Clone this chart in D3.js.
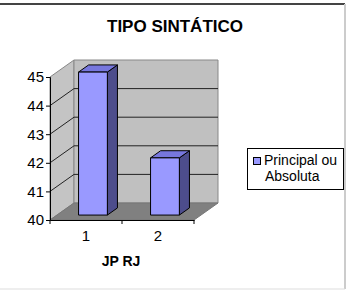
<!DOCTYPE html>
<html>
<head>
<meta charset="utf-8">
<script src="https://cdn.jsdelivr.net/npm/d3@7"></script>
<style>
  body { margin: 0; background: #fff; }
  svg { display: block; font-family: Arial, "Liberation Sans", sans-serif; }
</style>
</head>
<body>
<svg width="347" height="290"></svg>
<script>
// data
const categories = ['1', '2'];
const values = [45, 42];
const yTicks = [40, 41, 42, 43, 44, 45];
const seriesName = ['Principal ou', 'Absoluta'];

const svg = d3.select('svg');

// frame
svg.append('line').attr('x1', 0).attr('x2', 345).attr('y1', 4).attr('y2', 4)
  .attr('stroke', '#444').attr('stroke-width', 2);
svg.append('line').attr('x1', 345).attr('x2', 345).attr('y1', 4).attr('y2', 289)
  .attr('stroke', '#ccc').attr('stroke-width', 2);
svg.append('line').attr('x1', 0).attr('x2', 345).attr('y1', 289).attr('y2', 289)
  .attr('stroke', '#ddd').attr('stroke-width', 1);

// title
svg.append('text')
  .attr('x', 175).attr('y', 32)
  .attr('text-anchor', 'middle')
  .attr('font-size', 17).attr('font-weight', 'bold')
  .text('TIPO SINTÁTICO');

// scales
const y = d3.scaleLinear().domain([40, 45]).range([220, 77]);
const x = d3.scaleBand().domain(categories).range([50, 194]);
const dx = 24, dy = -17; // depth offset

const pts = p => p.map(d => d.join(',')).join(' ');

// left wall
svg.append('polygon')
  .attr('points', pts([[50, y(45)], [50 + dx, y(45) + dy], [50 + dx, y(40) + dy], [50, y(40)]]))
  .attr('fill', '#c4c4c4').attr('stroke', '#888');
// back wall
svg.append('polygon')
  .attr('points', pts([[50 + dx, y(45) + dy], [194 + dx, y(45) + dy], [194 + dx, y(40) + dy], [50 + dx, y(40) + dy]]))
  .attr('fill', '#c0c0c0').attr('stroke', '#888');
// floor
svg.append('polygon')
  .attr('points', pts([[50, y(40)], [194, y(40)], [194 + dx, y(40) + dy], [50 + dx, y(40) + dy]]))
  .attr('fill', '#808080').attr('stroke', '#777');

// gridlines
const grid = svg.append('g').attr('stroke', '#222').attr('stroke-width', 1);
yTicks.filter(t => t > 40 && t < 45).forEach(t => {
  grid.append('line')
    .attr('x1', 50 + dx).attr('x2', 194 + dx)
    .attr('y1', y(t) + dy).attr('y2', y(t) + dy);
  grid.append('line')
    .attr('x1', 50).attr('x2', 50 + dx)
    .attr('y1', y(t)).attr('y2', y(t) + dy);
});

// bars
const f0 = 0.29, bd = 0.42;
const bars = svg.append('g').attr('stroke', '#000').attr('stroke-width', 1)
  .attr('stroke-linejoin', 'round');
categories.forEach((c, i) => {
  const x0 = x(c) + x.bandwidth() * 0.3 + f0 * dx;
  const x1 = x0 + x.bandwidth() * 0.4;
  const yt = y(values[i]) + f0 * dy;
  const yb = y(40) + f0 * dy;
  const ox = bd * dx, oy = bd * dy;
  bars.append('polygon')
    .attr('points', pts([[x1, yt], [x1 + ox, yt + oy], [x1 + ox, yb + oy], [x1, yb]]))
    .attr('fill', '#4d4d8c');
  bars.append('polygon')
    .attr('points', pts([[x0, yt], [x1, yt], [x1 + ox, yt + oy], [x0 + ox, yt + oy]]))
    .attr('fill', '#7777dd');
  bars.append('rect')
    .attr('x', x0).attr('y', yt)
    .attr('width', x1 - x0).attr('height', yb - yt)
    .attr('fill', '#9999ff');
});

// y axis
svg.append('g')
  .attr('transform', 'translate(50,0)')
  .call(d3.axisLeft(y).tickValues(yTicks).tickSize(4).tickPadding(2).tickFormat(d3.format('d')))
  .call(g => g.selectAll('text').attr('font-size', 15).attr('font-family', 'Arial, "Liberation Sans", sans-serif').attr('fill', '#000'))
  .call(g => g.selectAll('line, path').attr('stroke', '#000'));

// x axis (ticks at category edges)
const xa = svg.append('g').attr('transform', `translate(0,${y(40)})`);
xa.call(d3.axisBottom(x).tickSize(0).tickPadding(10))
  .call(g => g.select('path').attr('stroke', '#000'))
  .call(g => g.selectAll('text').attr('font-size', 15).attr('font-family', 'Arial, "Liberation Sans", sans-serif').attr('fill', '#000'));
[50, x('2'), 194].forEach(px => {
  xa.append('line').attr('x1', px).attr('x2', px).attr('y1', 0).attr('y2', 4).attr('stroke', '#000');
});

// axis title
svg.append('text')
  .attr('x', 121).attr('y', 266)
  .attr('text-anchor', 'middle')
  .attr('font-size', 14).attr('font-weight', 'bold')
  .text('JP RJ');

// legend
const lg = svg.append('g');
lg.append('rect').attr('x', 247.5).attr('y', 148.5).attr('width', 96).attr('height', 41)
  .attr('fill', '#fff').attr('stroke', '#000');
lg.append('rect').attr('x', 253.5).attr('y', 157.5).attr('width', 7).attr('height', 7)
  .attr('fill', '#9999ff').attr('stroke', '#000');
lg.selectAll('text.leg').data(seriesName).enter().append('text')
  .attr('class', 'leg')
  .attr('x', (d, i) => i === 0 ? 264 : 265)
  .attr('y', (d, i) => 165 + i * 16)
  .attr('font-size', 14)
  .text(d => d);
</script>
</body>
</html>
